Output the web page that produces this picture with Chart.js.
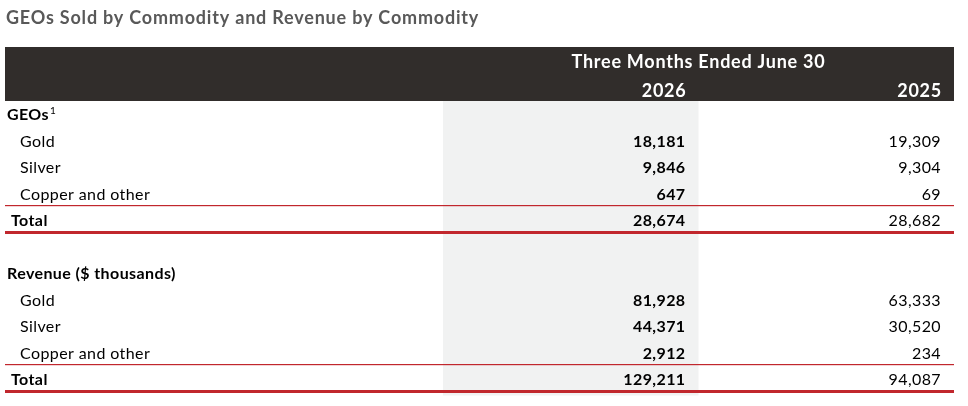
<!DOCTYPE html>
<html><head><meta charset="utf-8">
<script src="https://cdn.jsdelivr.net/npm/chart.js@4.4.1/dist/chart.umd.min.js"></script>
<style>html,body{margin:0;padding:0;background:#fff}#wrap{width:968px;height:406px;position:relative}</style>
</head><body><div id="wrap"><canvas id="c"></canvas></div>
<script>
// ---- data ----
const title = 'GEOs Sold by Commodity and Revenue by Commodity';
const periodLabel = 'Three Months Ended June 30';
const years = ['2026', '2025'];
const rowLabels = ['GEOs', 'Gold', 'Silver', 'Copper and other', 'Total', '', 'Revenue ($ thousands)', 'Gold', 'Silver', 'Copper and other', 'Total'];
const rowNotes = ['1', '', '', '', '', '', '', '', '', '', ''];
const values2026 = [null, 18181, 9846, 647, 28674, null, null, 81928, 44371, 2912, 129211];
const values2025 = [null, 19309, 9304, 69, 28682, null, null, 63333, 30520, 234, 94087];

// ---- styles ----
const FONT = 'Lato, "Open Sans", sans-serif';
const BAND = '#312d2b';
const SHADE = '#f1f2f2';
const RED = '#c1272d';
const TABLE_LEFT = 5;

function rowKind(i) {
  const l = rowLabels[i];
  if (!l) return 'blank';
  if (l === 'Total') return 'total';
  if (values2026[i] == null && values2025[i] == null) return 'section';
  return 'item';
}
const fmt = v => v.toLocaleString('en-US');
function spacing(ctx, px) { if ('letterSpacing' in ctx) ctx.letterSpacing = px + 'px'; }

const tablePlugin = {
  id: 'tablePlugin',
  beforeDraw(chart) {
    const ctx = chart.ctx, ca = chart.chartArea;
    const xs = chart.scales.x;
    const slotW = xs.getPixelForValue(1) - xs.getPixelForValue(0);
    ctx.save();
    ctx.fillStyle = '#fff';
    ctx.fillRect(0, 0, chart.width, chart.height);
    // title
    ctx.fillStyle = '#595959';
    ctx.font = 'bold 18px ' + FONT;
    spacing(ctx, 0.8);
    ctx.textAlign = 'left';
    ctx.textBaseline = 'alphabetic';
    ctx.fillText(title, 6, 24);
    // header band
    ctx.fillStyle = BAND;
    ctx.fillRect(TABLE_LEFT, 47, xs.right - TABLE_LEFT, ca.top - 47);
    // shaded current-year column
    const c0 = xs.getPixelForValue(0);
    ctx.fillStyle = SHADE;
    ctx.fillRect(c0 - slotW / 2, ca.top, slotW, ca.bottom - ca.top + 3);
    // header texts
    ctx.fillStyle = '#fff';
    ctx.font = 'bold 18px ' + FONT;
    spacing(ctx, 0.75);
    ctx.textAlign = 'center';
    ctx.fillText(periodLabel, c0 + slotW / 2, 68);
    ctx.textAlign = 'right';
    years.forEach((yr, k) => {
      ctx.fillText(yr, xs.getPixelForValue(k) + slotW / 2 - 12, 97);
    });
    ctx.restore();
  },
  afterDatasetsDraw(chart) {
    const ctx = chart.ctx;
    const xs = chart.scales.x, ys = chart.scales.y;
    const slotW = xs.getPixelForValue(1) - xs.getPixelForValue(0);
    const slotH = ys.getPixelForValue(1) - ys.getPixelForValue(0);
    ctx.save();
    spacing(ctx, 0.4);
    // row labels
    ctx.textBaseline = 'alphabetic';
    ctx.textAlign = 'left';
    rowLabels.forEach((lab, i) => {
      const kind = rowKind(i);
      if (kind === 'blank') return;
      const y = ys.getPixelForValue(i) + 6;
      const x = kind === 'section' ? 7 : kind === 'total' ? 11 : 20;
      ctx.fillStyle = '#000';
      ctx.font = (kind === 'item' ? '' : 'bold ') + '16px ' + FONT;
      ctx.fillText(lab, x, y);
      if (rowNotes[i]) {
        const w = ctx.measureText(lab).width;
        ctx.font = '10px ' + FONT;
        ctx.fillText(rowNotes[i], x + w + 1, y - 6);
      }
    });
    // rule lines
    rowLabels.forEach((lab, i) => {
      if (rowKind(i) !== 'total') return;
      const yc = ys.getPixelForValue(i);
      ctx.fillStyle = RED;
      ctx.fillRect(TABLE_LEFT, Math.round(yc - slotH / 2 - 2), xs.right - TABLE_LEFT, 1.2);
      ctx.fillRect(TABLE_LEFT, Math.round(yc + slotH / 2 - 3), xs.right - TABLE_LEFT, 3);
    });
    // values
    ctx.textAlign = 'right';
    chart.data.datasets.forEach((ds, k) => {
      const meta = chart.getDatasetMeta(k);
      meta.data.forEach((pt, i) => {
        const raw = ds.data[i];
        if (!raw || raw.v == null) return;
        ctx.fillStyle = '#000';
        ctx.font = (k === 0 ? 'bold ' : '') + '16px ' + FONT;
        ctx.fillText(fmt(raw.v), pt.x + slotW / 2 - 13, pt.y + 6);
      });
    });
    ctx.restore();
  }
};

const seriesValues = [values2026, values2025];
new Chart(document.getElementById('c'), {
  type: 'line',
  data: {
    datasets: years.map((yr, k) => ({
      label: yr,
      data: seriesValues[k].map((v, i) => ({ x: yr, y: i, v: v })),
      showLine: false,
      pointRadius: 0,
      pointHoverRadius: 0
    }))
  },
  options: {
    responsive: true,
    maintainAspectRatio: false,
    animation: false,
    events: [],
    layout: { padding: { left: 443, right: 14, top: 101, bottom: 13.5 } },
    plugins: { legend: { display: false }, tooltip: { enabled: false } },
    scales: {
      x: { type: 'category', labels: years, offset: true, display: false },
      y: { type: 'category', labels: rowLabels, offset: true, display: false }
    }
  },
  plugins: [tablePlugin]
});
</script>
</body></html>
